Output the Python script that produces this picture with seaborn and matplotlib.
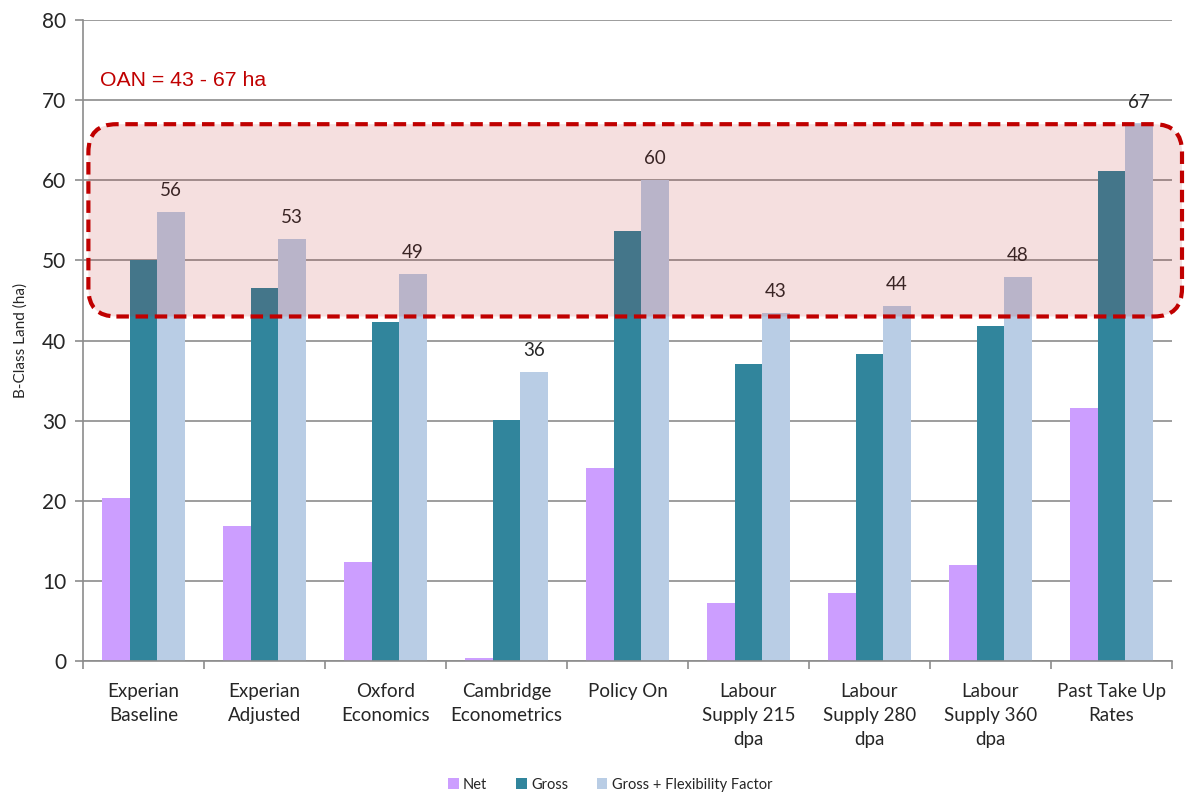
import numpy as np
import matplotlib
matplotlib.use("Agg")
import matplotlib.pyplot as plt
import pandas as pd
import seaborn as sns
from matplotlib.patches import FancyBboxPatch, Patch
from matplotlib.transforms import IdentityTransform

## datos
categories = ["Experian\nBaseline", "Experian\nAdjusted", "Oxford\nEconomics",
              "Cambridge\nEconometrics", "Policy On", "Labour\nSupply 215\ndpa",
              "Labour\nSupply 280\ndpa", "Labour\nSupply 360\ndpa", "Past Take Up\nRates"]
net = [20.3, 16.9, 12.4, 0.4, 24.1, 7.2, 8.5, 12.0, 31.6]
gross = [50.0, 46.6, 42.3, 30.1, 53.7, 37.1, 38.3, 41.8, 61.2]
flex = [56.1, 52.7, 48.3, 36.1, 60.0, 43.4, 44.3, 47.9, 67.1]
flex_labels = ["56", "53", "49", "36", "60", "43", "44", "48", "67"]
series = ["Net", "Gross", "Gross + Flexibility Factor"]
oan_low, oan_high = 43, 67

df = pd.DataFrame({
    "cat": categories * 3,
    "serie": [series[0]] * 9 + [series[1]] * 9 + [series[2]] * 9,
    "val": net + gross + flex,
})

sns.set_style("white")
plt.rcParams['font.family'] = ['Lato', 'DejaVu Sans']

fig = plt.figure(figsize=(11.85, 7.92), dpi=100)
ax = fig.add_axes([0.070, 0.1654, 0.919, 0.8093])

colores = ["#cc9eff", "#31859c", "#b9cde5"]
sns.barplot(data=df, x="cat", y="val", hue="serie", palette=colores,
            width=0.68, ax=ax, legend=False, zorder=2, saturation=1, linewidth=0)

ax.set_ylim(0, 80)
ax.set_xlim(-0.5, 8.5)
ax.set_yticks(np.arange(0, 81, 10))
ax.yaxis.grid(True, color="#8c8c8c", linewidth=1.2, zorder=0)
ax.set_axisbelow(True)
for s in ["top", "right"]:
    ax.spines[s].set_visible(False)
for s in ["left", "bottom"]:
    ax.spines[s].set_color("#8c8c8c")
    ax.spines[s].set_linewidth(1.2)

ax.tick_params(axis="y", labelsize=15, colors="#8c8c8c", labelcolor="#262626",
               length=6, width=1.2, left=True, direction="out", pad=6)
ax.set_xticks(range(9))
ax.set_xticklabels(categories, fontsize=13.5, color="#262626", linespacing=1.5)
ax.tick_params(axis="x", length=0, pad=16)
ax.set_xticks(np.arange(-0.5, 9, 1), minor=True)
ax.tick_params(axis="x", which="minor", length=6, width=1.2, color="#8c8c8c",
               direction="out", bottom=True)
ax.set_xlabel("")
ax.set_ylabel("B-Class Land (ha)", fontsize=11, color="#262626", labelpad=10)

# etiquetas sobre barras flex
for i, lab in enumerate(flex_labels):
    ax.text(i + 0.227, flex[i] + 1.6, lab, ha="center", va="bottom",
            fontsize=13.5, color="#262626", zorder=6)

ax.text(0.0155, 72.5, "OAN = 43 - 67 ha", transform=ax.get_yaxis_transform(),
        fontsize=15.3, color="#c00000", family="Liberation Sans", va="center")

# leyenda
handles = [Patch(facecolor=c, edgecolor="none") for c in colores]
fig.legend(handles, series, loc="lower center", ncol=3, frameon=False,
           fontsize=10.5, bbox_to_anchor=(0.515, -0.016), handlelength=0.7,
           handleheight=0.7, columnspacing=2.0, handletextpad=0.3)

# caja OAN en pixeles
fig.canvas.draw()
x0 = ax.transAxes.transform((0.005, 0))[0]
x1 = fig.bbox.width - 3
y0 = ax.transData.transform((0, oan_low))[1]
y1 = ax.transData.transform((0, oan_high))[1]
rad = 28
box = FancyBboxPatch((x0 + rad, y0 + rad), (x1 - x0) - 2 * rad, (y1 - y0) - 2 * rad,
                     boxstyle="round,pad=%d,rounding_size=%d" % (rad, rad),
                     transform=IdentityTransform(), facecolor=(0.73, 0.13, 0.13, 0.14),
                     edgecolor="#c00000", linewidth=3, linestyle=(0, (3, 1.6)),
                     zorder=4, clip_on=False)
fig.patches.append(box)
box.set_figure(fig)

fig.savefig("out.png", dpi=100)
